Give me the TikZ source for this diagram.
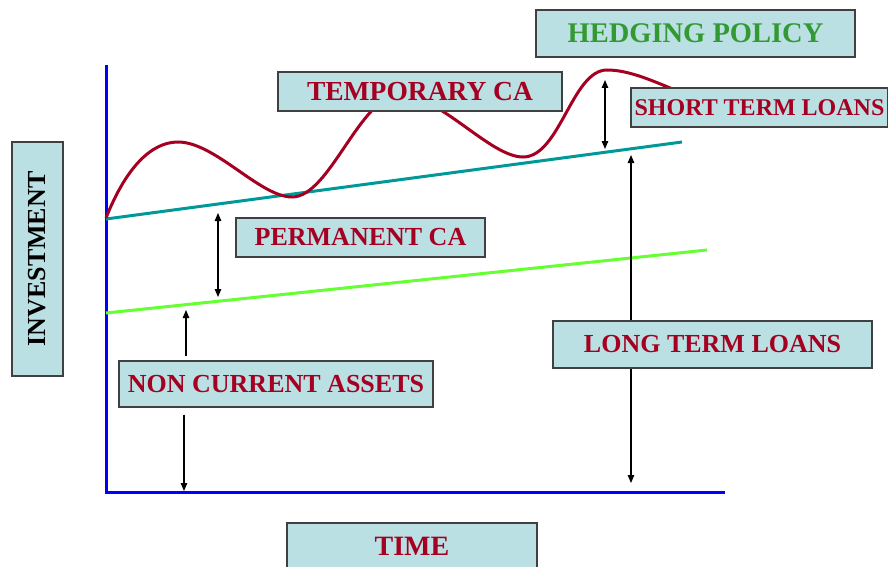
\documentclass[tikz,border=0pt]{standalone}
\usepackage{fontspec}
\setmainfont{Liberation Serif}
\usetikzlibrary{arrows.meta,calc}

\definecolor{boxfill}{RGB}{187,224,227}
\definecolor{wine}{RGB}{165,0,33}
\definecolor{leaf}{RGB}{51,153,51}
\definecolor{tealline}{RGB}{0,153,153}
\definecolor{limeline}{RGB}{102,255,51}

\tikzset{
  labelbox/.style={draw=black!75,line width=1.1pt,fill=boxfill,inner sep=0pt,
     text=wine,font=\fontsize{26}{30}\selectfont\bfseries},
  gaparrow/.style={line width=1.1pt,-{Triangle[length=8pt,width=6.5pt]}},
  bothgap/.style={line width=1.1pt,{Triangle[length=8pt,width=6.5pt]}-{Triangle[length=8pt,width=6.5pt]}}
}

\begin{document}
\begin{tikzpicture}[x=1pt,y=-1pt]
\useasboundingbox (0,0) rectangle (888,567);

% axes
\coordinate (top)    at (106,65);
\coordinate (origin) at (106,492);
\coordinate (right)  at (725,492);
\draw[blue,line width=3pt] (top)--(origin)--(right);

% permanent levels
\draw[tealline,line width=3pt] (106,219)--(682,142);
\draw[limeline,line width=3pt] (106,313)--(707,250);

% total current assets
\draw[wine,line width=3pt] (106,218) .. controls (125,170) and (150,142) .. (178,142)
   .. controls (215,142) and (260,197) .. (292,197)
   .. controls (330,197) and (360,95) .. (400,95)
   .. controls (440,95) and (490,157) .. (523,157)
   .. controls (560,157) and (572,70) .. (607,70)
   .. controls (630,70) and (655,82) .. (680,92);

% boxes
\node[labelbox,minimum width=319,minimum height=47,text=leaf,
      font=\fontsize{28.5}{32}\selectfont\bfseries] (hedge) at (695.5,33.5) {HEDGING POLICY};
\node[labelbox,minimum width=284,minimum height=39,
      font=\fontsize{27.5}{30}\selectfont\bfseries] (temp)  at (420,91.5) {TEMPORARY CA};
\node[labelbox,minimum width=257,minimum height=39,
      font=\fontsize{24}{28}\selectfont\bfseries] (short) at (759.5,107.5) {SHORT TERM LOANS};
\node[labelbox,minimum width=249,minimum height=39] (perm)  at (360.5,237.5) {PERMANENT CA};
\node[labelbox,minimum width=314,minimum height=46] (nca)   at (276,384) {NON CURRENT ASSETS};
\node[labelbox,minimum width=319,minimum height=47] (ltl)   at (712.5,344.5) {LONG TERM LOANS};
\node[labelbox,minimum width=250,minimum height=47,
      font=\fontsize{28}{32}\selectfont\bfseries] (time)  at (412,546.5) {TIME};
\node[labelbox,minimum width=234,minimum height=51,text=black,
      rotate=90] (invest) at (37.5,259) {INVESTMENT};

% gaps
\coordinate (p1) at (218,213);
\coordinate (p2) at (218,297);
\draw[bothgap] (p1)--(p2);

\coordinate (n1) at (186,310);
\coordinate (n2) at (184,491);
\draw[gaparrow] ($(nca.north -| n1)+(0,-4)$)--(n1);
\draw[gaparrow] ($(nca.south -| n2)+(0,7)$)--(n2);

\coordinate (s1) at (605,80);
\coordinate (s2) at (605,149);
\draw[bothgap] (s1)--(s2);

\coordinate (l1) at (631,155);
\coordinate (l2) at (631,483);
\draw[gaparrow] (ltl.north -| l1)--(l1);
\draw[gaparrow] (ltl.south -| l2)--(l2);

\end{tikzpicture}
\end{document}
